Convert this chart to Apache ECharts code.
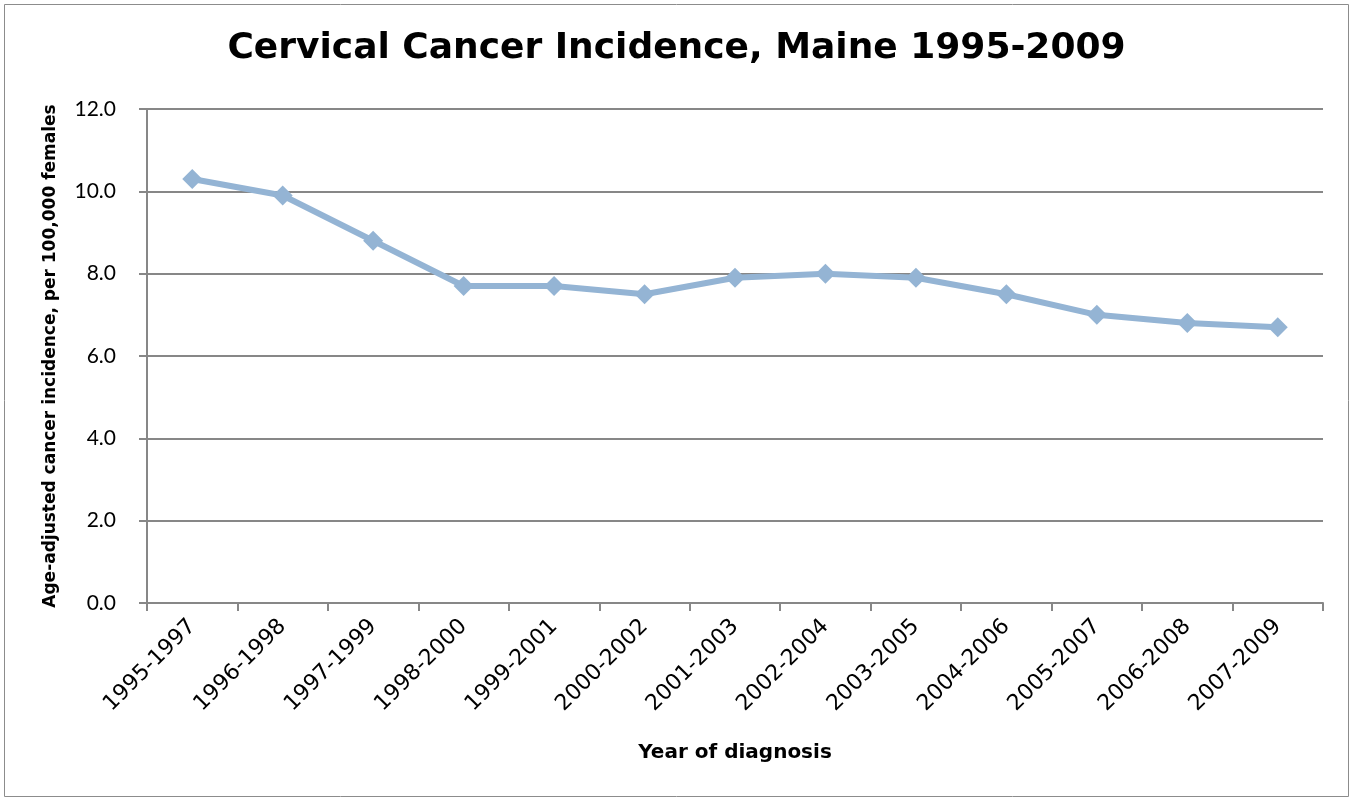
<!DOCTYPE html>
<html>
<head>
<meta charset="utf-8">
<script src="https://cdn.jsdelivr.net/npm/echarts@6/dist/echarts.min.js"></script>
<style>
  html, body { margin: 0; padding: 0; background: #fff; }
  #chart { width: 1353px; height: 799px; }
</style>
</head>
<body>
<div id="chart"></div>
<script>
// 数据
const periods = ['1995-1997', '1996-1998', '1997-1999', '1998-2000', '1999-2001', '2000-2002',
  '2001-2003', '2002-2004', '2003-2005', '2004-2006', '2005-2007', '2006-2008', '2007-2009']
const incidence = [10.3, 9.9, 8.8, 7.7, 7.7, 7.5, 7.9, 8.0, 7.9, 7.5, 7.0, 6.8, 6.7]

const wide = '"DejaVu Sans", sans-serif'
const font = 'Lato, "DejaVu Sans", sans-serif'
const axisGray = '#878787'

const myChart = echarts.init(document.getElementById('chart'))
const option = {
  animation: false,
  backgroundColor: '#fff',
  title: {
    text: 'Cervical Cancer Incidence, Maine 1995-2009',
    left: 'center',
    top: 26,
    textStyle: { fontFamily: wide, fontWeight: 'bold', fontSize: 36, color: '#000' }
  },
  graphic: [{
    type: 'rect',
    shape: { x: 4.5, y: 4.5, width: 1344, height: 792 },
    style: { fill: 'none', stroke: '#8c8c8c', lineWidth: 1 },
    silent: true
  }],
  grid: { left: 147, right: 30, top: 109, bottom: 196 },
  xAxis: {
    type: 'category',
    data: periods,
    boundaryGap: true,
    name: 'Year of diagnosis',
    nameLocation: 'middle',
    nameGap: 140,
    nameTextStyle: { fontFamily: wide, fontWeight: 'bold', fontSize: 20, color: '#000' },
    axisLine: { lineStyle: { color: axisGray, width: 2 } },
    axisTick: { show: true, length: 8, lineStyle: { color: axisGray, width: 2 } },
    axisLabel: { rotate: 45, margin: 20, fontFamily: wide, fontSize: 22, color: '#000' }
  },
  yAxis: {
    type: 'value',
    min: 0,
    max: 12,
    interval: 2,
    name: 'Age-adjusted cancer incidence, per 100,000 females',
    nameLocation: 'middle',
    nameGap: 88,
    nameTextStyle: { fontFamily: wide, fontWeight: 'bold', fontSize: 17, color: '#000' },
    axisLine: { show: true, lineStyle: { color: axisGray, width: 2 } },
    axisTick: { show: true, length: 8, lineStyle: { color: axisGray, width: 2 } },
    axisLabel: {
      margin: 31,
      fontFamily: font,
      fontSize: 21,
      color: '#000',
      formatter: (v) => v.toFixed(1)
    },
    splitLine: { show: true, lineStyle: { color: axisGray, width: 2 } }
  },
  series: [{
    name: 'incidence',
    type: 'line',
    data: incidence,
    symbol: 'diamond',
    symbolSize: 20,
    itemStyle: { color: '#94b4d4' },
    lineStyle: { color: '#94b4d4', width: 6 }
  }]
}
myChart.setOption(option)
window.addEventListener('resize', () => {
  myChart.resize()
})
</script>
</body>
</html>
